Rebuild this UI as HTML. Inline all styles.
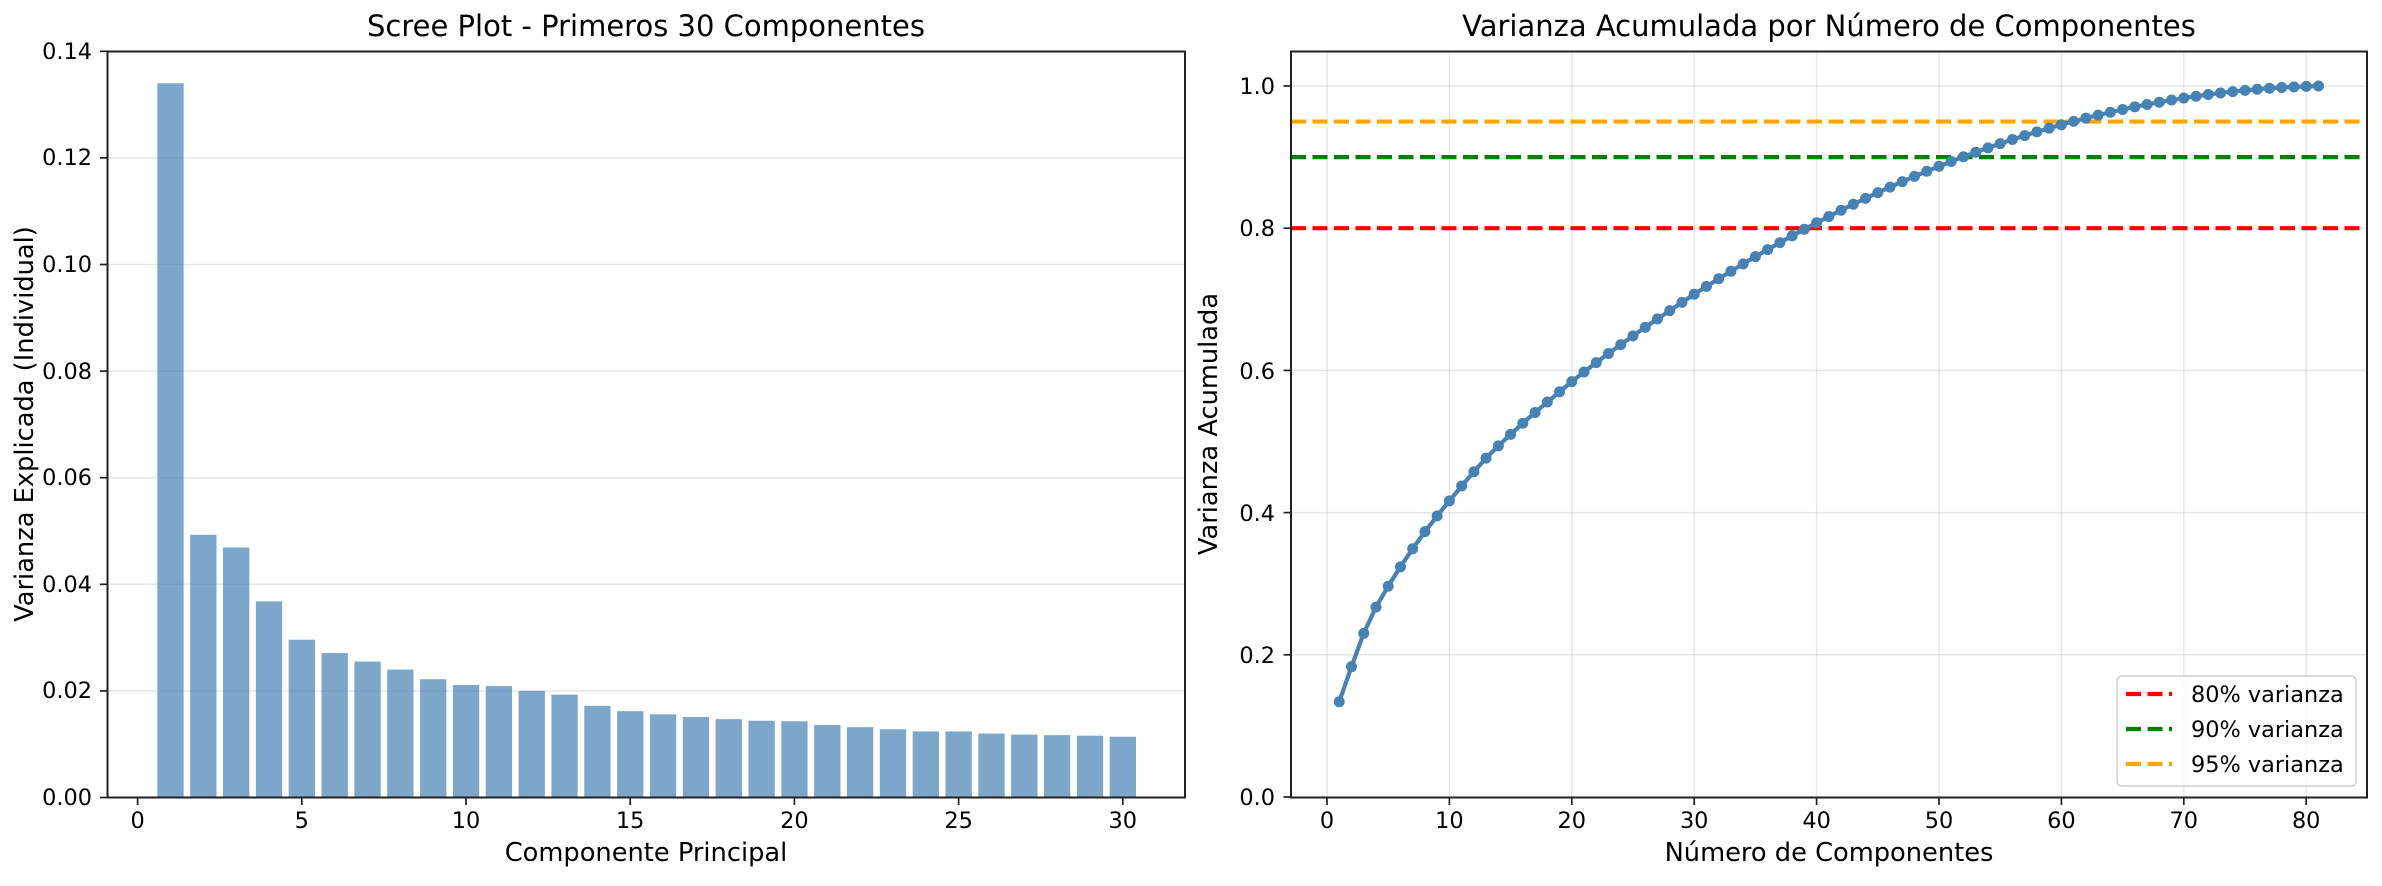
<!DOCTYPE html>
<html><head><meta charset="utf-8"><style>
html,body{margin:0;padding:0;background:#fff}
svg text{font-family:"DejaVu Sans","Liberation Sans",sans-serif;fill:#000}
</style></head><body>
<svg id="s" width="2382" height="881" viewBox="0 0 2382 881" xmlns="http://www.w3.org/2000/svg">
<rect width="2382" height="881" fill="#fff"/>
<g id="g1"></g>
<g id="g2"></g>
<rect x="107.5" y="51.5" width="1077.5" height="746" fill="none" stroke="#222" stroke-width="2"/>
<g font-size="22.4" text-anchor="end">
<text x="92" y="805">0.00</text><text x="92" y="698">0.02</text><text x="92" y="592">0.04</text><text x="92" y="485">0.06</text><text x="92" y="379">0.08</text><text x="92" y="272">0.10</text><text x="92" y="165">0.12</text><text x="92" y="59">0.14</text>
</g>
<g font-size="22.4" text-anchor="middle">
<text x="137.6" y="828">0</text><text x="301.8" y="828">5</text><text x="466" y="828">10</text><text x="630.2" y="828">15</text><text x="794.4" y="828">20</text><text x="958.6" y="828">25</text><text x="1122.8" y="828">30</text>
</g>
<text x="646" y="36" font-size="29" text-anchor="middle">Scree Plot - Primeros 30 Componentes</text>
<text x="646" y="861" font-size="25.7" text-anchor="middle">Componente Principal</text>
<text transform="translate(33,424) rotate(-90)" font-size="25.7" text-anchor="middle">Varianza Explicada (Individual)</text>
<rect x="1291" y="51.5" width="1076" height="746" fill="none" stroke="#222" stroke-width="2"/>
<g font-size="22.4" text-anchor="end">
<text x="1275" y="805">0.0</text><text x="1275" y="663">0.2</text><text x="1275" y="521">0.4</text><text x="1275" y="379">0.6</text><text x="1275" y="236">0.8</text><text x="1275" y="94">1.0</text>
</g>
<g font-size="22.4" text-anchor="middle">
<text x="1327" y="828">0</text><text x="1449.4" y="828">10</text><text x="1571.8" y="828">20</text><text x="1694.2" y="828">30</text><text x="1816.6" y="828">40</text><text x="1939" y="828">50</text><text x="2061.4" y="828">60</text><text x="2183.8" y="828">70</text><text x="2306.2" y="828">80</text>
</g>
<text x="1829" y="36" font-size="29" text-anchor="middle">Varianza Acumulada por Número de Componentes</text>
<text x="1829" y="861" font-size="25.7" text-anchor="middle">Número de Componentes</text>
<text transform="translate(1217,424) rotate(-90)" font-size="25.7" text-anchor="middle">Varianza Acumulada</text>
<rect x="2117" y="676" width="239" height="110" rx="5" fill="#fff" fill-opacity="0.8" stroke="#d0d0d0" stroke-width="1.5"/>
<g stroke-width="4.2" stroke-dasharray="15 6.5">
<line x1="2126" y1="694" x2="2172" y2="694" stroke="#ff0000"/>
<line x1="2126" y1="729" x2="2172" y2="729" stroke="#008000"/>
<line x1="2126" y1="764" x2="2172" y2="764" stroke="#ffa500"/>
</g>
<g font-size="22.4">
<text x="2191" y="702">80% varianza</text>
<text x="2191" y="737">90% varianza</text>
<text x="2191" y="772">95% varianza</text>
</g>
</svg>
<script>
var NS="http://www.w3.org/2000/svg";
function el(p,t,a){var e=document.createElementNS(NS,t);for(var k in a)e.setAttribute(k,a[k]);p.appendChild(e);return e;}
var g1=document.getElementById("g1"),g2=document.getElementById("g2");
var v=[0.134,0.0493,0.0469,0.0368,0.0296,0.0271,0.0255,0.0240,0.0222,0.0211,0.0209,0.0200,0.0193,0.0172,0.0162,0.0156,0.0151,0.0147,0.0144,0.0143,0.0136,0.0132,0.0128,0.0124,0.0124,0.0120,0.0118,0.0117,0.0116,0.0114];
for(var i=1;i<=7;i++){var y=797.5-i*106.6;el(g1,"line",{x1:107.5,x2:1185,y1:y,y2:y,stroke:"#b0b0b0","stroke-opacity":0.3,"stroke-width":1.5});}
for(var i=0;i<30;i++){var cx=137.6+(i+1)*32.84,h=v[i]/0.02*106.6;el(g1,"rect",{x:cx-13.1,y:797.5-h,width:26.3,height:h,fill:"#4682b4","fill-opacity":0.7});}
for(var i=0;i<=7;i++){var y=797.5-i*106.6;el(g1,"line",{x1:100,x2:107.5,y1:y,y2:y,stroke:"#222","stroke-width":1.7});}
for(var i=0;i<=6;i++){var x=137.6+i*5*32.84;el(g1,"line",{x1:x,x2:x,y1:797.5,y2:805,stroke:"#222","stroke-width":1.7});}
var X=function(n){return 1327+n*12.24;},Y=function(c){return 797+(-c)*711;};
for(var i=0;i<=8;i++){var x=X(i*10);el(g2,"line",{x1:x,x2:x,y1:51.5,y2:797.5,stroke:"#b0b0b0","stroke-opacity":0.3,"stroke-width":1.5});}
for(var i=1;i<=5;i++){var y=Y(i*0.2);el(g2,"line",{x1:1291,x2:2367,y1:y,y2:y,stroke:"#b0b0b0","stroke-opacity":0.3,"stroke-width":1.5});}
[[0.8,"#ff0000"],[0.9,"#008000"],[0.95,"#ffa500"]].forEach(function(a){var y=Y(a[0]);el(g2,"line",{x1:1291,x2:2367,y1:y,y2:y,stroke:a[1],"stroke-width":4.2,"stroke-dasharray":"15 6.5"});});
var inc=v.slice();var tail=[];var ts=0;for(var k=31;k<=81;k++){var d=0.0112-(k-31)*(0.0112-0.0005)/50;tail.push(d);ts+=d;}
var rem=1-v.reduce(function(a,b){return a+b},0);tail=tail.map(function(d){return d*rem/ts;});inc=inc.concat(tail);
var c=0,pts=[];for(var i=0;i<81;i++){c+=inc[i];pts.push([X(i+1),Y(c)]);}
el(g2,"polyline",{points:pts.map(function(p){return p.join(",")}).join(" "),fill:"none",stroke:"#4682b4","stroke-width":4.2});
pts.forEach(function(p){el(g2,"circle",{cx:p[0],cy:p[1],r:5.5,fill:"#4682b4"});});
for(var i=0;i<=8;i++){var x=X(i*10);el(g2,"line",{x1:x,x2:x,y1:797.5,y2:805,stroke:"#222","stroke-width":1.7});}
for(var i=0;i<=5;i++){var y=Y(i*0.2);el(g2,"line",{x1:1283.5,x2:1291,y1:y,y2:y,stroke:"#222","stroke-width":1.7});}
</script>
</body></html>
